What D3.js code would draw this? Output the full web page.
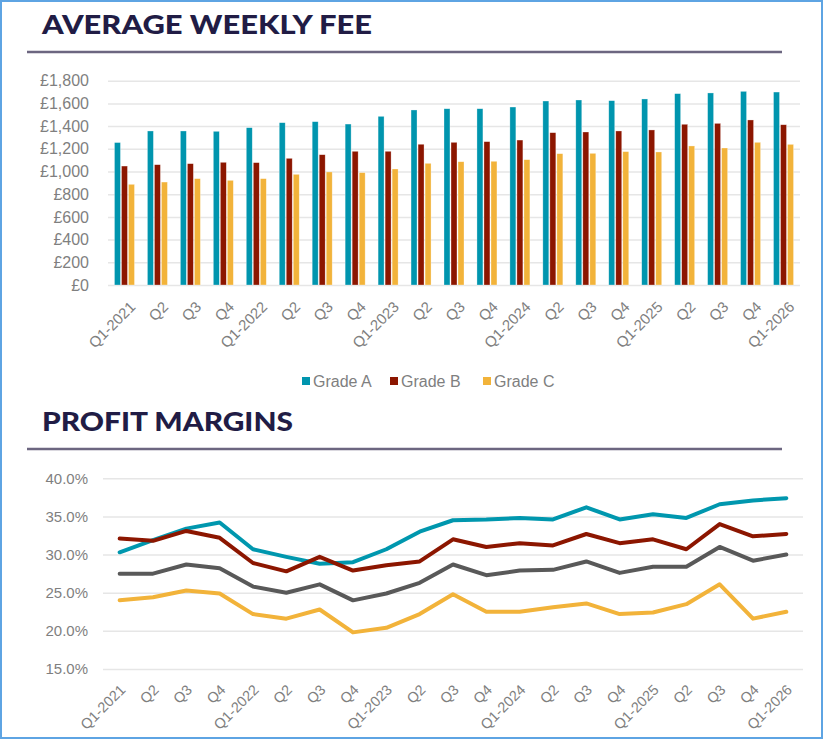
<!DOCTYPE html>
<html>
<head>
<meta charset="utf-8">
<script src="https://cdn.jsdelivr.net/npm/d3@7"></script>
<style>
  html, body { margin: 0; padding: 0; background: #fff; }
  svg { display: block; }
  .axis text { fill: #7f7f7f; font-family: "Liberation Sans", Arial, sans-serif; }
  .axis .domain { display: none; }
</style>
</head>
<body>
<svg id="chart" width="825" height="741"></svg>
<script>
// Quarter labels (shared by both charts)
var quarters = ["Q1-2021", "Q2", "Q3", "Q4", "Q1-2022", "Q2", "Q3", "Q4", "Q1-2023", "Q2", "Q3",
    "Q4", "Q1-2024", "Q2", "Q3", "Q4", "Q1-2025", "Q2", "Q3", "Q4", "Q1-2026"];

// Average weekly fee, £
var feeGradeA = [1255, 1357, 1357, 1354, 1386, 1430, 1439, 1418, 1486, 1542, 1553,
    1553, 1568, 1621, 1630, 1624, 1639, 1686, 1692, 1706, 1700];
var feeGradeB = [1048, 1060, 1069, 1081, 1078, 1116, 1148, 1178, 1178, 1240, 1257,
    1263, 1277, 1342, 1348, 1357, 1366, 1416, 1424, 1454, 1412];
var feeGradeC = [887, 907, 937, 922, 937, 975, 996, 990, 1022, 1072, 1086,
    1090, 1104, 1157, 1160, 1175, 1172, 1225, 1207, 1257, 1239];
var feeTicks = [0, 200, 400, 600, 800, 1000, 1200, 1400, 1600, 1800];

// Profit margins, %
var marginGradeA = [30.3, 31.9, 33.4, 34.2, 30.7, 29.7, 28.8, 29.0, 30.7, 33.0, 34.5,
    34.6, 34.8, 34.6, 36.2, 34.6, 35.3, 34.8, 36.6, 37.1, 37.4];
var marginGradeB = [32.1, 31.8, 33.1, 32.2, 28.9, 27.8, 29.7, 27.9, 28.6, 29.1, 32.0,
    31.0, 31.5, 31.2, 32.7, 31.5, 32.0, 30.7, 34.0, 32.4, 32.7];
var marginOverall = [27.5, 27.5, 28.7, 28.2, 25.8, 25.0, 26.1, 24.0, 24.9, 26.3, 28.7,
    27.3, 27.9, 28.0, 29.1, 27.6, 28.4, 28.4, 31.0, 29.2, 30.0];
var marginGradeC = [24.0, 24.4, 25.3, 24.9, 22.2, 21.6, 22.8, 19.8, 20.4, 22.2, 24.8,
    22.5, 22.5, 23.1, 23.6, 22.2, 22.4, 23.5, 26.1, 21.6, 22.5];
var marginTicks = [15, 20, 25, 30, 35, 40];

var feeSeries = [
    { name: "Grade A", color: "#0095ae", values: feeGradeA },
    { name: "Grade B", color: "#8c1600", values: feeGradeB },
    { name: "Grade C", color: "#f2b33a", values: feeGradeC }
];
var marginSeries = [
    { color: "#0097ae", values: marginGradeA },
    { color: "#8c1600", values: marginGradeB },
    { color: "#595959", values: marginOverall },
    { color: "#f2b33a", values: marginGradeC }
];

var svg = d3.select("#chart");

// outer frame
svg.append("rect")
    .attr("x", 1).attr("y", 1)
    .attr("width", 821).attr("height", 737)
    .attr("fill", "none")
    .attr("stroke", "#5ea4e3")
    .attr("stroke-width", 2);

// section headings
function heading(label, baseline, lineY, targetWidth) {
    svg.append("text")
        .attr("x", 42)
        .attr("y", baseline)
        .style("font-family", "Lato, 'DejaVu Sans', sans-serif")
        .style("font-weight", 900)
        .style("font-size", "27px")
        .attr("fill", "#211c45")
        .attr("textLength", targetWidth)
        .attr("lengthAdjust", "spacingAndGlyphs")
        .text(label);
    svg.append("line")
        .attr("x1", 27).attr("x2", 782)
        .attr("y1", lineY).attr("y2", lineY)
        .attr("stroke", "#6c6680")
        .attr("stroke-width", 2.5);
}
heading("AVERAGE WEEKLY FEE", 34, 52, 330);
heading("PROFIT MARGINS", 431, 449, 251);

// ---------- Average weekly fee (grouped bars) ----------
var bar = { left: 108, right: 800, top: 80.7, bottom: 285 };

var xBand = d3.scaleBand()
    .domain(d3.range(quarters.length))
    .range([bar.left, bar.right]);

var xInner = d3.scaleBand()
    .domain(feeSeries.map(function (s) { return s.name; }))
    .range([-10, 10])
    .paddingInner(0.15);

var yFee = d3.scaleLinear()
    .domain([0, 1800])
    .range([bar.bottom, bar.top]);

var feeAxis = svg.append("g")
    .attr("class", "axis")
    .attr("transform", "translate(" + bar.left + ",0)")
    .call(d3.axisLeft(yFee)
        .tickValues(feeTicks)
        .tickSize(-(bar.right - bar.left))
        .tickPadding(19)
        .tickFormat(function (d) { return "£" + d3.format(",")(d); }));
feeAxis.selectAll("line").attr("stroke", "#e6e6e6").attr("stroke-width", 1.5);
feeAxis.selectAll("text").style("font-size", "16px");

var groups = svg.append("g").selectAll("g")
    .data(feeSeries)
    .enter().append("g")
    .attr("fill", function (s) { return s.color; });

groups.selectAll("rect")
    .data(function (s) { return s.values.map(function (v, i) { return { name: s.name, v: v, i: i }; }); })
    .enter().append("rect")
    .attr("x", function (d) { return xBand(d.i) + xBand.bandwidth() / 2 + xInner(d.name); })
    .attr("width", xInner.bandwidth())
    .attr("y", function (d) { return yFee(d.v); })
    .attr("height", function (d) { return yFee(0) - yFee(d.v); })
    .attr("stroke", "#ffffff")
    .attr("stroke-opacity", 0.5)
    .attr("stroke-width", 0.6);

var feeX = svg.append("g")
    .attr("class", "axis")
    .attr("transform", "translate(0," + bar.bottom + ")")
    .call(d3.axisBottom(xBand).tickSize(0).tickFormat(function (i) { return quarters[i]; }));
feeX.selectAll("text")
    .style("font-size", "15px")
    .attr("text-anchor", "end")
    .attr("dy", "0.35em")
    .attr("transform", "translate(6,17) rotate(-45)");

// legend
var legend = svg.append("g").attr("transform", "translate(302,381)");
var legendX = [0, 88, 181];
feeSeries.forEach(function (s, k) {
    legend.append("rect")
        .attr("x", legendX[k]).attr("y", -4)
        .attr("width", 8).attr("height", 8)
        .attr("fill", s.color);
    legend.append("text")
        .attr("x", legendX[k] + 11).attr("y", 6)
        .attr("fill", "#7f7f7f")
        .style("font-family", "'Liberation Sans', Arial, sans-serif")
        .style("font-size", "16px")
        .text(s.name);
});

// ---------- Profit margins (lines) ----------
var ln = { left: 103, right: 803, top: 478.3, bottom: 669 };

var xPoint = d3.scaleBand()
    .domain(d3.range(quarters.length))
    .range([ln.left, ln.right]);

var yMargin = d3.scaleLinear()
    .domain([15, 40])
    .range([ln.bottom, ln.top]);

var marginAxis = svg.append("g")
    .attr("class", "axis")
    .attr("transform", "translate(" + ln.left + ",0)")
    .call(d3.axisLeft(yMargin)
        .tickValues(marginTicks)
        .tickSize(-(ln.right - ln.left))
        .tickPadding(15)
        .tickFormat(function (d) { return d3.format(".1f")(d) + "%"; }));
marginAxis.selectAll("line").attr("stroke", "#e6e6e6").attr("stroke-width", 1.5);
marginAxis.selectAll("text").style("font-size", "15px");

var line = d3.line()
    .x(function (d, i) { return xPoint(i) + xPoint.bandwidth() / 2; })
    .y(function (d) { return yMargin(d); });

svg.append("g").selectAll("path")
    .data(marginSeries)
    .enter().append("path")
    .attr("fill", "none")
    .attr("stroke", function (s) { return s.color; })
    .attr("stroke-width", 4)
    .attr("stroke-linejoin", "round")
    .attr("stroke-linecap", "round")
    .attr("d", function (s) { return line(s.values); });

var marginX = svg.append("g")
    .attr("class", "axis")
    .attr("transform", "translate(0," + ln.bottom + ")")
    .call(d3.axisBottom(xPoint).tickSize(0).tickFormat(function (i) { return quarters[i]; }));
marginX.selectAll("text")
    .style("font-size", "14.5px")
    .attr("text-anchor", "end")
    .attr("dy", "0.35em")
    .attr("transform", "translate(1,16) rotate(-45)");
</script>
</body>
</html>
